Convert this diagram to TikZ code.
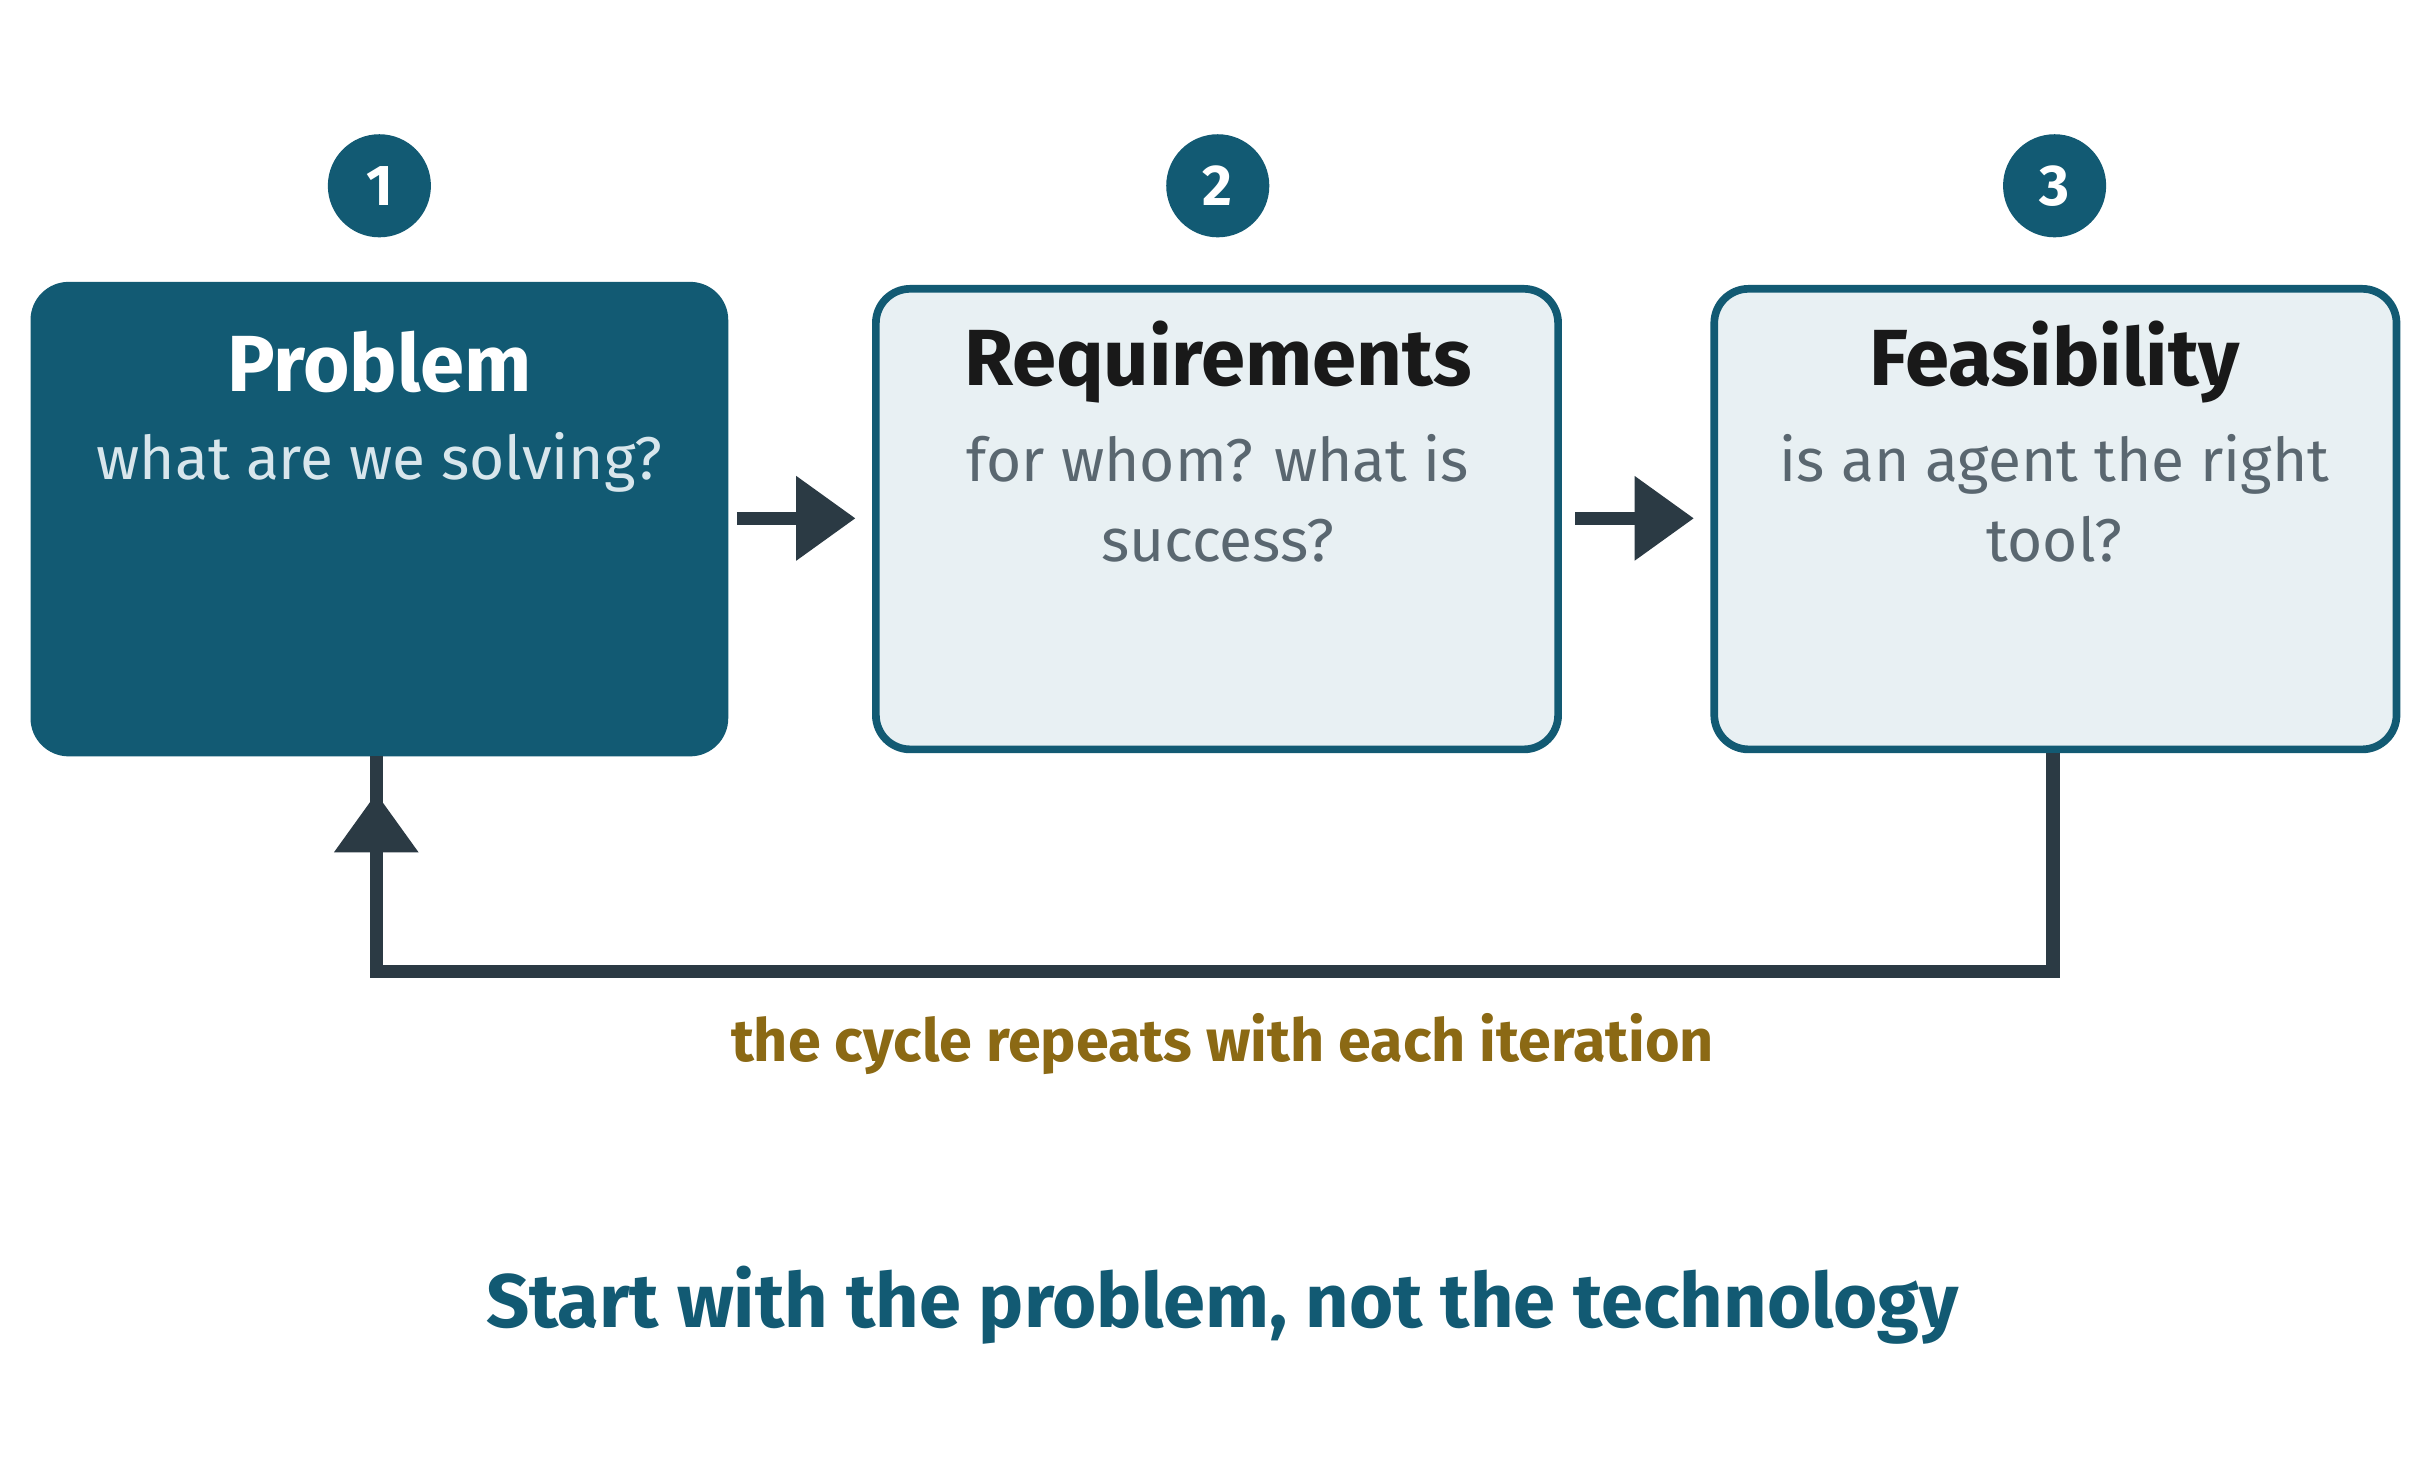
\documentclass[tikz,border=0pt]{standalone}
\usepackage{fontspec}
\setmainfont{Fira Sans}
\usetikzlibrary{arrows.meta}
\definecolor{teal}{HTML}{125A73}
\definecolor{pale}{HTML}{E8F0F3}
\definecolor{dark}{HTML}{2B3A44}
\definecolor{gold}{HTML}{8B6914}
\definecolor{subg}{HTML}{5A6770}
\definecolor{subl}{HTML}{D8E6EC}
\begin{document}
\begin{tikzpicture}[x=0.01cm,y=-0.01cm,
  box/.style={rounded corners=0.22cm,line width=1.4pt,draw=teal,fill=pale},
  num/.style={circle,fill=teal,minimum size=0.66cm,inner sep=0pt,text=white,font=\fontsize{10.5}{12}\selectfont\bfseries},
  ttl/.style={font=\fontsize{14.5}{17}\selectfont\bfseries},
  sub/.style={font=\fontsize{11}{14.6}\selectfont,align=center},
  conn/.style={draw=dark,line width=2.4pt},
  arr/.style={conn,-{Triangle[length=0.38cm,width=0.52cm]}}]
\useasboundingbox (0,0) rectangle (1559,940);
\fill[white] (0,0) rectangle (1559,940);
\draw[box,fill=teal] (22,183) rectangle (464,482);
\draw[box] (561,185) rectangle (998,480);
\draw[box] (1098,185) rectangle (1535,480);
\node[num] (n1) at (243,119) {1};
\node[num] (n2) at (780,119) {2};
\node[num] (n3) at (1316,119) {3};
\node[ttl,text=white] (t1) at (243,232) {Problem};
\node[ttl,text=black!90] (t2) at (780,232) {Requirements};
\node[ttl,text=black!90] (t3) at (1316,232) {Feasibility};
\node[sub,text=subl] (s1) at (243,296) {what are we solving?};
\node[sub,text=subg,anchor=north] (s2) at (780,266) {for whom? what is\\success?};
\node[sub,text=subg,anchor=north] (s3) at (1316,266) {is an agent the right\\tool?};
\coordinate (a1s) at (472,332); \coordinate (a1e) at (548,332);
\coordinate (a2s) at (1009,332); \coordinate (a2e) at (1085,332);
\draw[arr] (a1s) -- (a1e);
\draw[arr] (a2s) -- (a2e);
\coordinate (f0) at (1315,482); \coordinate (f1) at (1315,622);
\coordinate (f2) at (241,622); \coordinate (f3) at (241,508); \coordinate (f4) at (241,484);
\draw[conn,line join=miter] (f0) -- (f1) -- (f2) -- (f4);
\draw[arr] (f2) -- (f3);
\node[font=\fontsize{10.8}{12}\selectfont\bfseries,text=gold] (cap) at (783,669) {the cycle repeats with each iteration};
\node[font=\fontsize{13.8}{15}\selectfont\bfseries,text=teal] (foot) at (783,836) {Start with the problem, not the technology};
\end{tikzpicture}
\end{document}
